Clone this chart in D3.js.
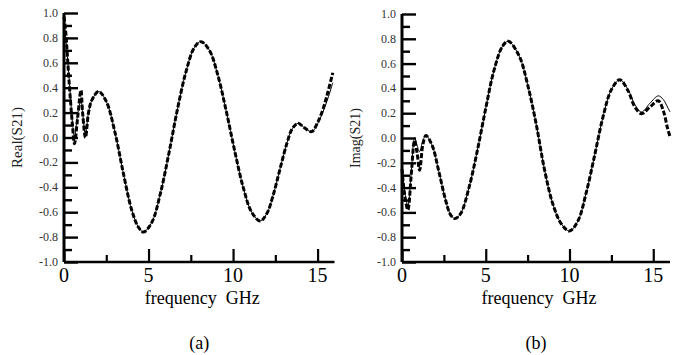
<!DOCTYPE html>
<html>
<head>
<meta charset="utf-8">
<script src="https://cdn.jsdelivr.net/npm/d3@7"></script>
<style>
  body { margin: 0; background: #fff; }
  svg { display: block; }
</style>
</head>
<body>
<svg id="chart" width="679" height="355" font-family="'Liberation Serif', Tinos, 'Times New Roman', Times, 'DejaVu Serif', serif"></svg>
<script>
// ---- data ----
const realDashF = [0, 0.1, 0.3, 0.5, 0.62, 0.8, 1.0, 1.1, 1.27, 1.45, 1.65, 2.05, 2.5, 3.0, 3.5, 4.0, 4.4, 4.7, 5.2, 5.7, 6.2, 6.7, 7.2, 7.7, 8.1, 8.6, 9.1, 9.6, 10.1, 10.6, 11.1, 11.6, 12.0, 12.4, 12.8, 13.2, 13.5, 13.85, 14.2, 14.65, 15.0, 15.3, 15.6, 15.9];
const realDashV = [0.97, 0.85, 0.45, 0.1, -0.05, 0.15, 0.38, 0.2, 0.0, 0.2, 0.3, 0.37, 0.29, 0.05, -0.28, -0.58, -0.72, -0.76, -0.68, -0.45, -0.13, 0.22, 0.52, 0.72, 0.77, 0.7, 0.5, 0.21, -0.11, -0.4, -0.6, -0.67, -0.61, -0.45, -0.24, -0.04, 0.07, 0.115, 0.08, 0.047, 0.12, 0.22, 0.36, 0.52];
const realSolidF = [0, 0.1, 0.3, 0.5, 0.62, 0.8, 1.0, 1.1, 1.27, 1.45, 1.65, 2.05, 2.5, 3.0, 3.5, 4.0, 4.4, 4.7, 5.2, 5.7, 6.2, 6.7, 7.2, 7.7, 8.1, 8.6, 9.1, 9.6, 10.1, 10.6, 11.1, 11.6, 12.0, 12.4, 12.8, 13.2, 13.5, 13.85, 14.2, 14.65, 15.0, 15.3, 15.6, 15.9];
const realSolidV = [0.92, 0.8, 0.48, 0.12, 0.0, 0.18, 0.3, 0.2, 0.02, 0.2, 0.3, 0.37, 0.29, 0.05, -0.28, -0.58, -0.72, -0.76, -0.68, -0.45, -0.13, 0.22, 0.52, 0.72, 0.77, 0.7, 0.5, 0.21, -0.11, -0.4, -0.6, -0.67, -0.61, -0.45, -0.24, -0.04, 0.07, 0.115, 0.08, 0.047, 0.11, 0.2, 0.31, 0.44];

const imagDashF = [0, 0.15, 0.35, 0.55, 0.75, 0.9, 1.05, 1.25, 1.43, 1.8, 2.2, 2.6, 2.9, 3.15, 3.5, 4.0, 4.5, 5.0, 5.5, 6.0, 6.35, 7.0, 7.5, 8.0, 8.5, 9.0, 9.5, 10.0, 10.5, 11.0, 11.5, 12.0, 12.5, 13.0, 13.5, 13.9, 14.3, 14.8, 15.3, 15.6, 15.85, 16.0];
const imagDashV = [-0.25, -0.45, -0.58, -0.3, -0.02, -0.12, -0.26, -0.05, 0.02, -0.06, -0.27, -0.5, -0.62, -0.65, -0.61, -0.4, -0.1, 0.24, 0.55, 0.74, 0.78, 0.66, 0.43, 0.12, -0.25, -0.53, -0.69, -0.75, -0.67, -0.44, -0.14, 0.17, 0.39, 0.47, 0.38, 0.25, 0.196, 0.25, 0.3, 0.22, 0.08, 0.01];
const imagSolidF = [0, 0.15, 0.35, 0.55, 0.75, 0.9, 1.05, 1.25, 1.43, 1.8, 2.2, 2.6, 2.9, 3.15, 3.5, 4.0, 4.5, 5.0, 5.5, 6.0, 6.35, 7.0, 7.5, 8.0, 8.5, 9.0, 9.5, 10.0, 10.5, 11.0, 11.5, 12.0, 12.5, 13.0, 13.5, 13.9, 14.3, 14.8, 15.3, 15.6, 15.85, 16.0];
const imagSolidV = [-0.2, -0.42, -0.55, -0.28, 0.0, -0.06, -0.11, -0.02, 0.02, -0.06, -0.27, -0.5, -0.62, -0.65, -0.61, -0.4, -0.1, 0.24, 0.55, 0.74, 0.78, 0.66, 0.43, 0.12, -0.25, -0.53, -0.69, -0.75, -0.67, -0.44, -0.14, 0.17, 0.39, 0.47, 0.39, 0.27, 0.21, 0.28, 0.34, 0.31, 0.25, 0.21];

const xTicks = [0, 5, 10, 15];
const xMinorTicks = [2.5, 7.5, 12.5];
const yTicks = [-1.0, -0.8, -0.6, -0.4, -0.2, 0.0, 0.2, 0.4, 0.6, 0.8, 1.0];
const yMinorTicks = [-0.9, -0.7, -0.5, -0.3, -0.1, 0.1, 0.3, 0.5, 0.7, 0.9];

const panels = [
  { left: 64, right: 334.5, top: 13, bottom: 262, yLabel: 'Real(S21)', ySize: 15, tag: '(a)',
    dash: [realDashF, realDashV], solid: [realSolidF, realSolidV] },
  { left: 402, right: 670, top: 14, bottom: 262, yLabel: 'Imag(S21)', ySize: 14, tag: '(b)',
    dash: [imagDashF, imagDashV], solid: [imagSolidF, imagSolidV] }
];

const svg = d3.select('#chart');

panels.forEach(p => drawPanel(p));

function drawPanel(p) {
  const x = d3.scaleLinear().domain([0, 16]).range([p.left, p.right]);
  const y = d3.scaleLinear().domain([-1, 1]).range([p.bottom, p.top]);
  const g = svg.append('g');

  // curves
  const line = d3.line()
    .x(d => x(d[0]))
    .y(d => y(d[1]))
    .curve(d3.curveCatmullRom.alpha(0.5));

  g.append('path')
    .datum(d3.zip(p.solid[0], p.solid[1]))
    .attr('fill', 'none')
    .attr('stroke', '#000')
    .attr('stroke-width', 1)
    .attr('d', line);

  g.append('path')
    .datum(d3.zip(p.dash[0], p.dash[1]))
    .attr('fill', 'none')
    .attr('stroke', '#000')
    .attr('stroke-width', 3)
    .attr('stroke-dasharray', '5,2')
    .attr('d', line);

  // y axis, ticks pointing inward
  const yAxis = g.append('g').attr('transform', `translate(${p.left},0)`)
    .call(d3.axisRight(y).tickValues(yTicks).tickSize(14).tickFormat(''));
  yAxis.select('.domain').attr('d', `M0,${p.top}V${p.bottom}`).attr('stroke-width', 3);
  yAxis.selectAll('.tick line').attr('stroke-width', 2.4);

  const yMinor = g.append('g').attr('transform', `translate(${p.left},0)`)
    .call(d3.axisRight(y).tickValues(yMinorTicks).tickSize(8).tickFormat(''));
  yMinor.select('.domain').remove();
  yMinor.selectAll('.tick line').attr('stroke-width', 2.4);

  g.selectAll('.ylab')
    .data(yTicks)
    .join('text')
    .attr('x', p.left - 6)
    .attr('y', d => y(d) + 4)
    .attr('text-anchor', 'end')
    .attr('font-size', 12)
    .attr('fill', '#333')
    .text(d => d3.format('.1f')(d).replace('−', '-'));

  // x axis, ticks pointing up
  const xAxis = g.append('g').attr('transform', `translate(0,${p.bottom})`)
    .call(d3.axisTop(x).tickValues(xTicks).tickSize(13).tickFormat(''));
  xAxis.select('.domain').attr('d', `M${p.left},0H${p.right}`).attr('stroke-width', 2.6);
  xAxis.selectAll('.tick line').attr('stroke-width', 2.2);

  const xMinor = g.append('g').attr('transform', `translate(0,${p.bottom})`)
    .call(d3.axisTop(x).tickValues(xMinorTicks).tickSize(7).tickFormat(''));
  xMinor.select('.domain').remove();
  xMinor.selectAll('.tick line').attr('stroke-width', 2.2);

  g.selectAll('.xlab')
    .data(xTicks)
    .join('text')
    .attr('x', d => x(d))
    .attr('y', p.bottom + 20)
    .attr('text-anchor', 'middle')
    .attr('font-size', 20)
    .text(d => d);

  const cx = (p.left + p.right) / 2 + 3;
  g.append('text')
    .attr('x', cx)
    .attr('y', 304)
    .attr('text-anchor', 'middle')
    .attr('font-size', 18)
    .style('white-space', 'pre')
    .text('frequency  GHz');

  g.append('text')
    .attr('x', cx - 3)
    .attr('y', 349)
    .attr('text-anchor', 'middle')
    .attr('font-size', 18)
    .text(p.tag);

  g.append('text')
    .attr('transform', `translate(${p.left - 42},${(p.top + p.bottom) / 2}) rotate(-90)`)
    .attr('text-anchor', 'middle')
    .attr('font-size', p.ySize)
    .attr('fill', '#222')
    .text(p.yLabel);
}
</script>
</body>
</html>
